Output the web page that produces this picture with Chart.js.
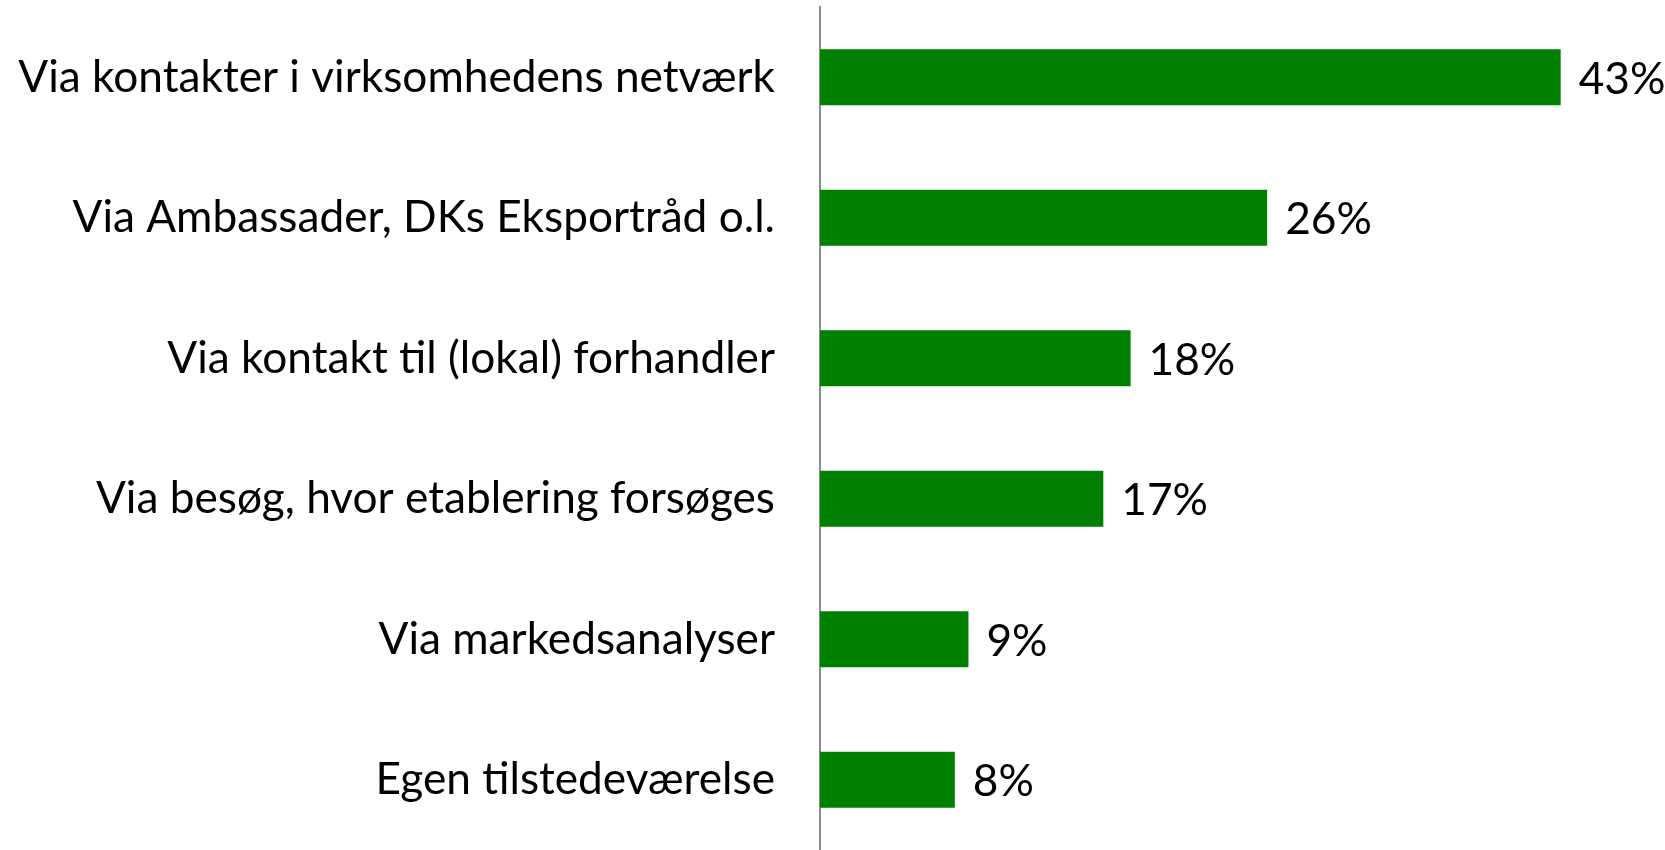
<!DOCTYPE html>
<html>
<head>
<meta charset="utf-8">
<script src="https://cdn.jsdelivr.net/npm/chart.js@4.4.1/dist/chart.umd.min.js"></script>
<style>
	html, body { margin: 0; padding: 0; background: #ffffff; }
	#wrap { width: 1665px; height: 850px; }
</style>
</head>
<body>
<div id="wrap"><canvas id="chart"></canvas></div>
<script>
"use strict";

const categories = [
	"Via kontakter i virksomhedens netværk",
	"Via Ambassader, DKs Eksportråd o.l.",
	"Via kontakt til (lokal) forhandler",
	"Via besøg, hvor etablering forsøges",
	"Via markedsanalyser",
	"Egen tilstedeværelse",
];
// share of companies, in percent (labels show the rounded value)
const shares = [43.4, 26.2, 18.2, 16.6, 8.7, 7.9];
const axisMax = 45;

const fontFamily = "Lato, 'Open Sans', sans-serif";
const fontSize = 44.2;

// draws "43%" etc. just right of each bar
const valueLabels = {
	id: "valueLabels",
	afterDatasetsDraw(chart) {
		const { ctx } = chart;
		const meta = chart.getDatasetMeta(0);
		ctx.save();
		ctx.font = `${fontSize}px ${fontFamily}`;
		ctx.fillStyle = "#000000";
		ctx.textAlign = "left";
		ctx.textBaseline = "middle";
		meta.data.forEach((bar, index) => {
			ctx.fillText(Math.round(shares[index]) + "%", bar.x + 18, bar.y + 2);
		});
		ctx.restore();
	},
};

new Chart(document.getElementById("chart"), {
	type: "bar",
	data: {
		labels: categories,
		datasets: [
			{
				data: shares,
				backgroundColor: "#008000",
				borderWidth: 0,
				categoryPercentage: 1,
				barPercentage: 0.4,
			},
		],
	},
	options: {
		indexAxis: "y",
		responsive: true,
		maintainAspectRatio: false,
		animation: false,
		layout: { padding: { top: 7, right: 77, bottom: 0, left: 0 } },
		plugins: {
			legend: { display: false },
			tooltip: { enabled: false },
		},
		scales: {
			x: {
				display: false,
				min: 0,
				max: axisMax,
			},
			y: {
				grid: { display: false, drawTicks: false },
				border: { display: true, color: "#8c8c8c", width: 2 },
				ticks: {
					color: "#000000",
					padding: 45,
					font: { family: fontFamily, size: fontSize },
				},
				afterFit(scale) {
					// fixed label column; the tick padding should not eat vertical room
					scale.width = 820;
					scale.paddingTop = 0;
					scale.paddingBottom = 0;
				},
			},
		},
	},
	plugins: [valueLabels],
});
</script>
</body>
</html>
